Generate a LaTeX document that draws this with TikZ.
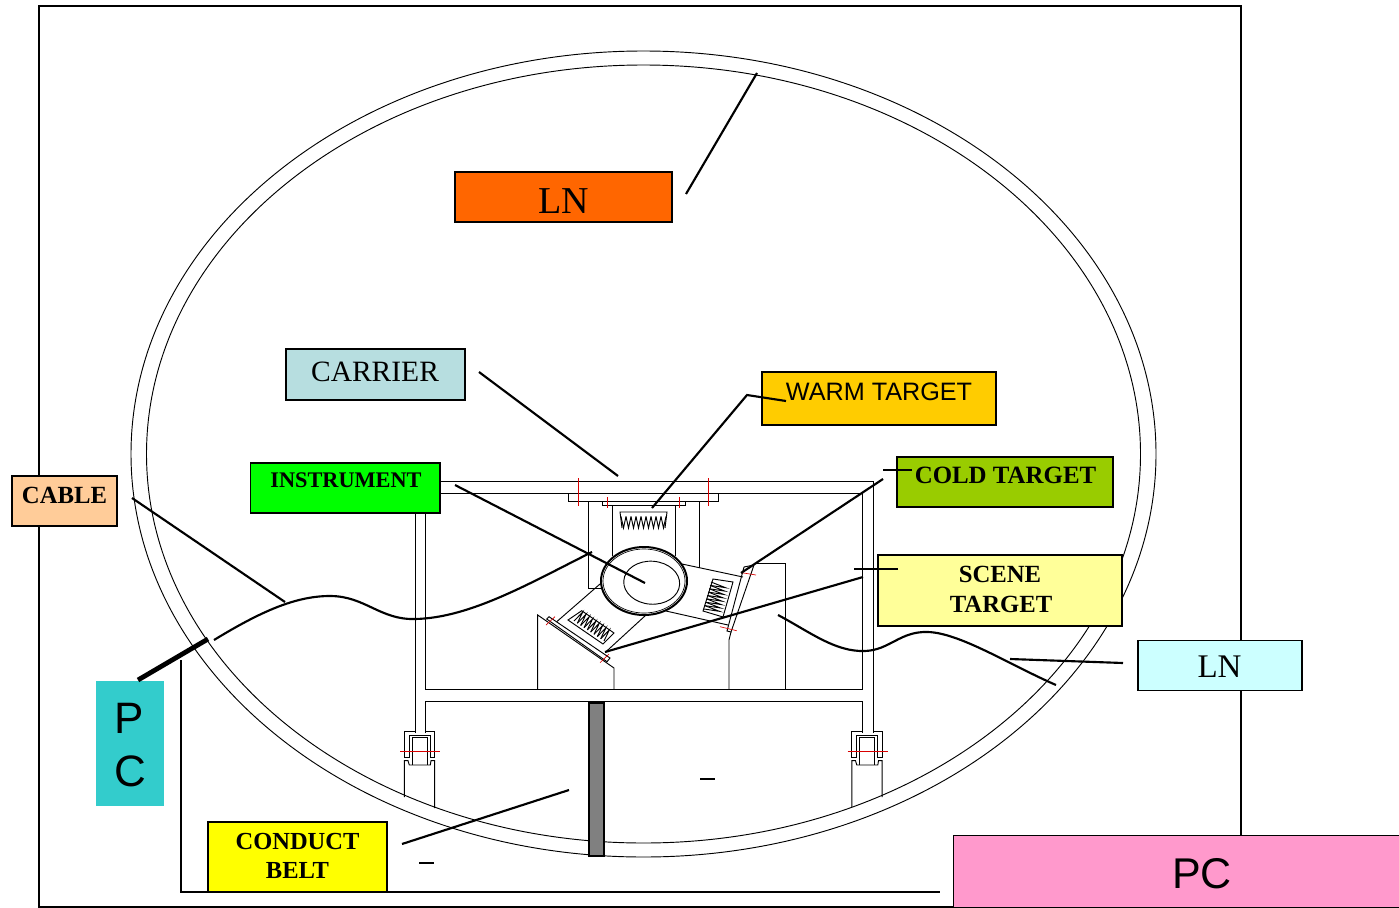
\documentclass[tikz,border=0pt]{standalone}
\usepackage{fontspec}
\setmainfont{Liberation Serif}
\setsansfont{Liberation Sans}
\usetikzlibrary{calc}
\newcommand{\pxfont}[1]{\pgfmathsetmacro{\pxsize}{#1*0.75}\fontsize{\pxsize pt}{\pxsize pt}\selectfont}
\newcommand{\zigrow}[4]{% start, end, tooth vector, teeth
  \foreach \i in {1,...,#4}{
    \draw[thinline] ($(#1)!{(\i-1)/#4}!(#2)$) -- ($(#1)!{(\i-0.5)/#4}!(#2)+(#3)$) -- ($(#1)!{\i/#4}!(#2)$);
  }}
\newcommand{\guidepart}[2]{% lower ends of the post
  \draw[thinline] (415,731.7) -- (404.3,731.7) -- (404.3,757.5) -- (409.3,757.5) -- (409.3,735.7) -- (430.3,735.7) -- (430.3,757.5) -- (434.7,757.5) -- (434.7,731.7) -- (425,731.7);
  \draw[thinline] (412.3,765) -- (412.3,737) -- (427.3,737) -- (427.3,765);
  \draw[thinline] (404.3,#1) -- (404.3,760.7) -- (408,760.7) -- (409.3,765) -- (430.3,765) -- (431,760.7) -- (434.7,760.7) -- (434.7,#2);
  \draw[redline] (400,751) -- (440,751);}
\tikzset{
  thinline/.style={draw=black,line width=0.7pt},
  redline/.style={draw=red!85!black,line width=0.5pt},
  leader/.style={draw=black,line width=1.6pt},
  labelbox/.style={draw=black,line width=1.3pt,inner sep=0pt,outer sep=0pt},
  flatbox/.style={inner sep=0pt,outer sep=0pt},
  txt/.style={inner sep=0pt,outer sep=0pt,align=center},
}
\definecolor{cOrange}{HTML}{FF6600}
\definecolor{cCarrier}{HTML}{B7DEE0}
\definecolor{cWarm}{HTML}{FFCC00}
\definecolor{cCold}{HTML}{99CC00}
\definecolor{cScene}{HTML}{FFFF99}
\definecolor{cCable}{HTML}{FFCC99}
\definecolor{cLNb}{HTML}{CCFFFF}
\definecolor{cTeal}{HTML}{33CCCC}
\definecolor{cPink}{HTML}{FF99CC}
\definecolor{cYellow}{HTML}{FFFF00}
\definecolor{cGreen}{HTML}{00FF00}
\begin{document}
\begin{tikzpicture}[x=0.75pt,y=-0.75pt]
\useasboundingbox (0,0) rectangle (1399,907);
\fill[white] (0,0) rectangle (1399,907);
% enclosure
\draw[black,line width=1.4pt] (39,907) -- (39,6) -- (1241,6) -- (1241,907) -- cycle;
\draw[black,line width=0.9pt] (181,660) -- (181,892) -- (940,892);
% vessel
\draw[thinline] (643.5,454) ellipse [x radius=512.5,y radius=403];
\draw[thinline] (643.5,454) ellipse [x radius=497,y radius=389];
% frame
\draw[thinline] (415,733) -- (415,493) -- (862,493) -- (862,689) -- (425,689) -- (425,493);
\draw[thinline] (415,481) -- (873,481) -- (873,733);
\draw[thinline] (415,481) -- (415,493);
\draw[thinline] (425,733) -- (425,701) -- (862,701) -- (862,733);
% flange
\draw[thinline] (568,493) -- (568,501) -- (718,501) -- (718,493);
\draw[thinline] (602,501) -- (602,505) -- (685,505) -- (685,501);
\draw[thinline] (612,505) -- (612,556);
\draw[thinline] (675,505) -- (675,556);
\draw[thinline] (588,501) -- (588,588) -- (601,588);
\draw[thinline] (699,501) -- (699,568);
\draw[redline] (578.7,478) -- (578.7,506);
\draw[redline] (708,478) -- (708,506);
\draw[redline] (607,497) -- (607,508);
\draw[redline] (679.5,497) -- (679.5,508);
% warm target
\draw[thinline] (622,528) -- (620,512) -- (667,512) -- (665,528);
\zigrow{621,516.5}{666,516.5}{0,11.5}{9}
% arms
\draw[thinline] (556.7,621.7) -- (600,584);
\draw[thinline] (606,651.7) -- (646,615);
\draw[thinline] (682,564) -- (743,577);
\draw[thinline] (666,611) -- (728,625);
% left block
\draw[thinline] (537.7,689) -- (537.7,615) -- (614,668) -- (614,689);
\draw[thinline] (546.7,619) -- (549,616.7) -- (610,658) -- (607,661.7) -- cycle;
\draw[thinline] (568,620) -- (581.7,610.7) -- (614,633) -- (603,644) -- cycle;
\zigrow{574,621}{604,641}{7,-10}{9}
\draw[redline] (546,625) -- (555,616.7);
\draw[redline] (600,662.7) -- (609,654);
% right block
\draw[thinline] (729,689) -- (729,640) -- (731,632);
\draw[thinline] (755,563) -- (785,563) -- (785,689);
\draw[thinline] (744,567) -- (754,565) -- (731,632) -- (727,631) -- cycle;
\draw[thinline] (713,579) -- (733,582) -- (723,617) -- (703,611) -- cycle;
\zigrow{711,582}{704,609}{15,4}{8}
\draw[redline] (741.7,572.7) -- (756,575);
\draw[redline] (720,626.7) -- (736.7,630.7);
% drum
\draw[black,line width=1.5pt,fill=white] (644,581) ellipse [x radius=43,y radius=34];
\draw[black,line width=0.5pt] (644,581) ellipse [x radius=41,y radius=32];
\draw[thinline,rotate around={-4:(651.7,582.7)}] (651.7,582.7) ellipse [x radius=28,y radius=21.5];
% guides
\guidepart{797}{808}
\begin{scope}[shift={(447.5,0)}]
\guidepart{807}{797}
\end{scope}
% labelled boxes
\node[flatbox,fill=cTeal,minimum width=51pt,minimum height=93.75pt] (pcL) at (130,743.5) {};
\node[txt,font=\sffamily] at (129,718) {\pxfont{44}P};
\node[txt,font=\sffamily] at (130,771) {\pxfont{44}C};
\node[flatbox,draw=black,line width=0.4pt,fill=cPink,anchor=north west,minimum width=336pt,minimum height=54pt] (pcR) at (953,835.5) {};
\node[txt,font=\sffamily] at (1202,874) {\pxfont{43}PC};
\node[labelbox,fill=cOrange,minimum width=163pt,minimum height=37.5pt] (lnTop) at (563.3,197) {};
\node[txt] at (563.5,201) {\pxfont{38}LN};
\node[labelbox,fill=cCarrier,minimum width=134pt,minimum height=38.25pt] (carrier) at (375.5,374.5) {};
\node[txt] at (375,372) {\pxfont{29.5}CARRIER};
\node[labelbox,fill=cWarm,minimum width=175.25pt,minimum height=39.75pt] (warm) at (879,398.5) {};
\node[txt,font=\sffamily] at (879,392) {\pxfont{25.2}WARM TARGET};
\node[labelbox,fill=cCold,minimum width=162pt,minimum height=37.5pt] (cold) at (1005,482) {};
\node[txt,font=\bfseries] at (1005.5,475) {\pxfont{24.9}COLD TARGET};
\node[labelbox,fill=cGreen,minimum width=142.25pt,minimum height=37.5pt] (instr) at (345.2,488) {};
\node[txt,font=\bfseries] at (346,480) {\pxfont{22.3}INSTRUMENT};
\node[labelbox,fill=cCable,minimum width=78.5pt,minimum height=37.5pt] (cable) at (64.5,501) {};
\node[txt,font=\bfseries] at (64.5,495) {\pxfont{24.7}CABLE};
\node[labelbox,fill=cScene,minimum width=183pt,minimum height=53.25pt] (scene) at (1000,590.5) {};
\node[txt,font=\bfseries] at (1000,574) {\pxfont{24.7}SCENE};
\node[txt,font=\bfseries] at (1001,604) {\pxfont{24.7}TARGET};
\node[labelbox,fill=cLNb,minimum width=123pt,minimum height=37.5pt] (lnR) at (1220,665.4) {};
\node[txt] at (1219.5,667) {\pxfont{33}LN};
\node[labelbox,fill=cYellow,minimum width=134pt,minimum height=52.5pt] (conduct) at (297.5,857) {};
\node[txt,font=\bfseries] at (297.5,841) {\pxfont{24.5}CONDUCT};
\node[txt,font=\bfseries] at (297.5,871) {\pxfont{24.5}BELT};
% belt
\node[flatbox,draw=black,line width=1.5pt,fill=black!50,minimum width=11pt,minimum height=114.75pt] (belt) at (596.5,779.5) {};
% leader ends
\coordinate (a1) at (686,194);   \coordinate (a2) at (757,73);
\coordinate (b1) at (479,372);   \coordinate (b2) at (618,476);
\coordinate (c0) at (786,401);   \coordinate (c1) at (747,395);   \coordinate (c2) at (652,508);
\coordinate (d0) at (912,470);   \coordinate (d1) at (883,470);   \coordinate (d2) at (883,479);  \coordinate (d3) at (741,573);
\coordinate (e0) at (898,569);   \coordinate (e1) at (854,569);   \coordinate (e2) at (863,577);  \coordinate (e3) at (605,652);
\coordinate (f1) at (455,485);   \coordinate (f2) at (645,583);
\coordinate (g1) at (132,498);   \coordinate (g2) at (285,602);
\coordinate (h1) at (1123,663);  \coordinate (h2) at (1010,659);
\coordinate (i1) at (402,844);   \coordinate (i2) at (569,790);
\coordinate (j1) at (138,680);   \coordinate (j2) at (208,639);
\draw[leader] (a1) -- (a2);
\draw[leader] (b1) -- (b2);
\draw[leader] (c0) -- (c1) -- (c2);
\draw[thinline,line width=0.9pt] (d0) -- (d1);
\draw[leader] (d2) -- (d3);
\draw[thinline,line width=0.9pt] (e0) -- (e1);
\draw[leader] (e2) -- (e3);
\draw[leader] (f1) -- (f2);
\draw[leader] (g1) -- (g2);
\draw[leader] (h1) -- (h2);
\draw[leader] (i1) -- (i2);
\draw[black,line width=3.6pt] (j1) -- (j2);
% wires
\draw[leader] (214,640) .. controls (260,612) and (295,596) .. (330,596) .. controls (365,596) and (380,620) .. (415,619) .. controls (470,618) and (530,583) .. (592,552);
\draw[leader] (778,615) .. controls (810,632) and (835,652) .. (865,651) .. controls (890,650) and (900,631) .. (928,632) .. controls (960,633) and (1010,665) .. (1056,685);
% dashes
\draw[black,line width=1pt] (700,779) -- (715,779);
\draw[black,line width=1pt] (419,863) -- (434,863);
\end{tikzpicture}
\end{document}
